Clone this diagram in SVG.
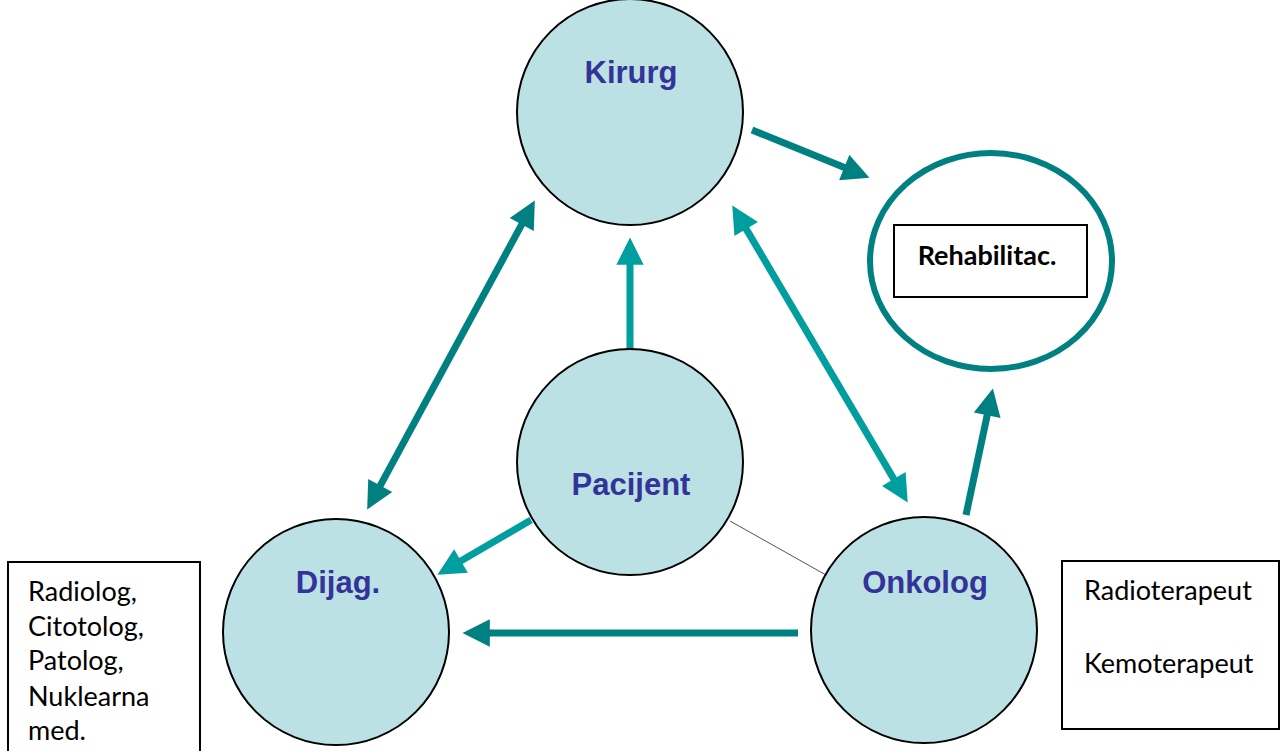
<svg xmlns="http://www.w3.org/2000/svg" width="1285" height="751" viewBox="0 0 1285 751">
<style>
.node{fill:#BCE1E4;stroke:#000;stroke-width:2}
.lbl{font-family:"Liberation Sans",Arial,sans-serif;font-weight:bold;font-size:31px;fill:#333399;text-anchor:middle}
.box{fill:#fff;stroke:#000;stroke-width:2}
.txt{font-family:Lato,"Open Sans",sans-serif;font-size:27px;fill:#000}
.dk{stroke:#008080;stroke-width:7;fill:none}
.lt{stroke:#009E9E;stroke-width:7;fill:none}
</style>
<defs>
<marker id="hd" viewBox="0 0 10 10" refX="3" refY="5" markerWidth="4.2" markerHeight="3.9" markerUnits="strokeWidth" orient="auto-start-reverse"><path d="M0,0 L10,5 L0,10 z" fill="#008080"/></marker>
<marker id="hl" viewBox="0 0 10 10" refX="3" refY="5" markerWidth="4.2" markerHeight="3.9" markerUnits="strokeWidth" orient="auto-start-reverse"><path d="M0,0 L10,5 L0,10 z" fill="#009E9E"/></marker>
</defs>
<rect width="1285" height="751" fill="#fff"/>
<g id="connectors">
<line x1="730" y1="521" x2="826" y2="575" stroke="#555" stroke-width="1"/>
<line class="dk" x1="752" y1="130" x2="851.8" y2="170.6" marker-end="url(#hd)"/>
<line class="dk" x1="376.3" y1="492.8" x2="525.7" y2="217.2" marker-start="url(#hd)" marker-end="url(#hd)"/>
<line class="lt" x1="630" y1="350" x2="630" y2="256.6" marker-end="url(#hl)"/>
<line class="lt" x1="742" y1="221.9" x2="898" y2="486.1" marker-start="url(#hl)" marker-end="url(#hl)"/>
<line class="lt" x1="531" y1="520" x2="453.9" y2="565.1" marker-end="url(#hl)"/>
<line class="dk" x1="798" y1="633" x2="481.6" y2="633" marker-end="url(#hd)"/>
<line class="dk" x1="966" y1="515" x2="988.9" y2="407.2" marker-end="url(#hd)"/>
</g>
<g id="kirurg"><circle class="node" cx="630" cy="112" r="113"/><text class="lbl" x="631" y="83">Kirurg</text></g>
<g id="pacijent"><circle class="node" cx="630" cy="462" r="113"/><text class="lbl" x="631" y="495">Pacijent</text></g>
<g id="dijag"><circle class="node" cx="336" cy="632" r="113"/><text class="lbl" x="338" y="593">Dijag.</text></g>
<g id="onkolog"><circle class="node" cx="924" cy="630" r="113"/><text class="lbl" x="925" y="593">Onkolog</text></g>
<g id="rehab">
<ellipse cx="991" cy="261" rx="121" ry="108" fill="#fff" stroke="#008080" stroke-width="6"/>
<rect class="box" x="894" y="225" width="193" height="72"/>
<text x="987" y="265" font-family="Lato,'Open Sans',sans-serif" font-weight="bold" font-size="27" text-anchor="middle" fill="#000">Rehabilitac.</text>
</g>
<g id="dijag-box">
<rect class="box" x="8" y="562" width="192" height="200"/>
<text class="txt" x="28" y="601">Radiolog,</text>
<text class="txt" x="28" y="636">Citotolog,</text>
<text class="txt" x="28" y="670">Patolog,</text>
<text class="txt" x="28" y="706">Nuklearna</text>
<text class="txt" x="28" y="740">med.</text>
</g>
<g id="onkolog-box">
<rect class="box" x="1062" y="561" width="217" height="168"/>
<text class="txt" x="1084" y="600">Radioterapeut</text>
<text class="txt" x="1084" y="673">Kemoterapeut</text>
</g>
</svg>
